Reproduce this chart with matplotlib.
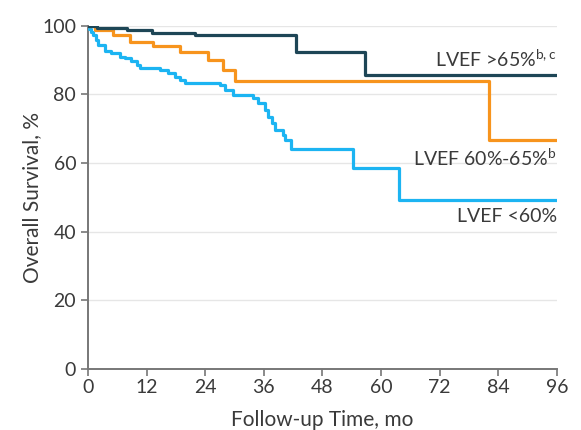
import matplotlib
matplotlib.use("Agg")
import matplotlib.pyplot as plt

# survival curves (months, % alive)
hiTime = [0, 1.8, 7.9, 13.0, 22.0, 42.5, 56.7, 96]
hiSurv = [100, 99.3, 98.8, 98.0, 97.4, 92.5, 85.7, 85.7]

midTime = [0, 1.4, 5.1, 8.6, 13.3, 18.8, 24.6, 27.7, 30.1, 82.1, 96]
midSurv = [100, 98.8, 97.4, 95.4, 94.0, 92.5, 90.1, 87.0, 83.8, 66.8, 66.8]

lowTime = [0, 0.3, 0.7, 1.1, 1.6, 2.1, 3.5, 4.8, 6.5, 7.6, 8.9, 10.0, 10.6,
           14.7, 16.4, 17.8, 18.8, 19.9, 27.0, 28.0, 29.7, 33.8, 34.9, 36.2,
           36.8, 37.6, 38.3, 40.0, 40.3, 41.5, 54.3, 63.7, 96]
lowSurv = [100, 99.0, 98.2, 97.4, 96.0, 94.5, 92.8, 92.0, 91.0, 90.6, 89.6, 88.6, 87.7,
           87.0, 86.2, 85.2, 84.3, 83.3, 82.8, 81.3, 79.9, 78.9, 77.5, 75.5,
           73.5, 71.6, 69.7, 68.2, 66.8, 64.0, 58.7, 49.1, 49.1]

xTicks = [0, 12, 24, 36, 48, 60, 72, 84, 96]
yTicks = [0, 20, 40, 60, 80, 100]

textColor = '#3a3a3a'
plt.rcParams['font.family'] = ['Lato', 'DejaVu Sans']

fig = plt.figure(figsize=(5.81, 4.30), dpi=100)
ax = fig.add_axes([0.1515, 0.142, 0.807, 0.798])

ax.step(lowTime, lowSurv, where='post', color='#1cb4f2', lw=2.3, zorder=3)
ax.step(midTime, midSurv, where='post', color='#f7941d', lw=2.3, zorder=4)
ax.step(hiTime, hiSurv, where='post', color='#1e4656', lw=2.3, zorder=5)

ax.text(96, 87.3, 'LVEF >65%$^{\\mathregular{b,c}}$', ha='right', va='bottom', fontsize=14, color=textColor)
ax.text(96, 64.8, 'LVEF 60%-65%$^{\\mathregular{b}}$', ha='right', va='top', fontsize=14, color=textColor)
ax.text(96, 47.0, 'LVEF <60%', ha='right', va='top', fontsize=14, color=textColor)

ax.set_xlim(0, 96)
ax.set_ylim(0, 100)
ax.set_xticks(xTicks)
ax.set_yticks(yTicks)
ax.tick_params(labelsize=14, colors='#777777', labelcolor=textColor, length=5, width=1.2)
ax.tick_params(axis='x', pad=2)
ax.yaxis.grid(True, color='#e6e6e6', lw=1)
ax.set_axisbelow(True)
for s in ['top', 'right']:
    ax.spines[s].set_visible(False)
for s in ['left', 'bottom']:
    ax.spines[s].set_color('#777777')
    ax.spines[s].set_linewidth(1.4)

ax.set_xlabel('Follow-up Time, mo', fontsize=15, color=textColor, labelpad=10)
ax.set_ylabel('Overall Survival, %', fontsize=15, color=textColor, labelpad=0)

fig.savefig('out.png', dpi=100)
